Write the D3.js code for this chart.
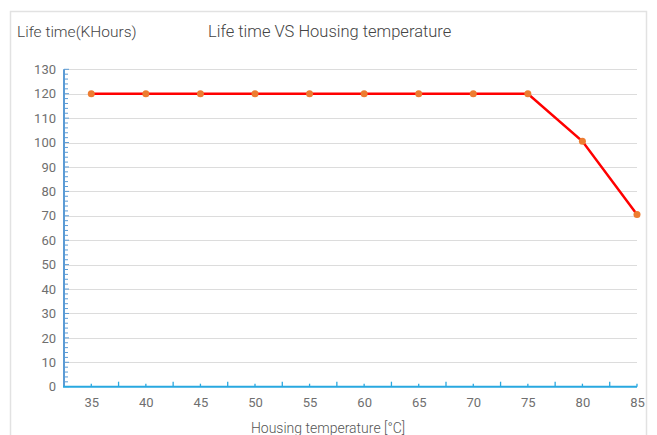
<!DOCTYPE html>
<html><head><meta charset="utf-8">
<script src="https://cdn.jsdelivr.net/npm/d3@7"></script>
<style>body{margin:0;background:#fff;}svg{display:block;font-family:Roboto,"Noto Sans",sans-serif;}</style>
</head><body><svg id="c" width="657" height="435"></svg>
<script>
const temps = [35,40,45,50,55,60,65,70,75,80,85];
const lifeK = [120,120,120,120,120,120,120,120,120,100.5,70.5];
const yTicks = [0,10,20,30,40,50,60,70,80,90,100,110,120,130];
const title = "Life time VS Housing temperature";
const yTitle = "Life time(KHours)";
const xTitle = "Housing temperature  [°C]";

const svg = d3.select("#c");
const m = {l:64, r:637, t:69.3, b:386.7};
const x = d3.scaleLinear().domain([32.5,85]).range([m.l,m.r]);
const y = d3.scaleLinear().domain([0,130]).range([m.b,m.t]);

// frame
svg.append("rect").attr("x",10.5).attr("y",11.5).attr("width",636).attr("height",440)
  .attr("fill","none").attr("stroke","#e2e2e2").attr("stroke-width",1.5);

// gridlines
svg.append("g").selectAll("line").data(yTicks.filter(d=>d>0)).join("line")
  .attr("x1",m.l).attr("x2",m.r).attr("y1",d=>Math.round(y(d))+0.5).attr("y2",d=>Math.round(y(d))+0.5)
  .attr("stroke","#dcdcdc").attr("stroke-width",1.2);

// y axis minor ticks
const yMinor = d3.range(0,131,2);
svg.append("g").selectAll("line").data(yMinor).join("line")
  .attr("x1",m.l).attr("x2",d=>m.l+(d%10===0?5:4)).attr("y1",d=>y(d)).attr("y2",d=>y(d))
  .attr("stroke","#5b9bd5").attr("stroke-width",1);
svg.append("line").attr("x1",m.l).attr("x2",m.l).attr("y1",m.t).attr("y2",m.b)
  .attr("stroke","#5b9bd5").attr("stroke-width",2);

// y tick labels
const yAxis = d3.axisLeft(y).tickValues(yTicks).tickSize(0).tickPadding(8);
const gy = svg.append("g").attr("transform",`translate(${m.l},0)`).call(yAxis);
gy.select(".domain").remove();
gy.selectAll("text").attr("fill","#6f6f6f").style("font-size","13px").style("font-family","Roboto");

// x axis
const xMajor = d3.range(37.5,85,5);
svg.append("g").selectAll("line").data(xMajor).join("line")
  .attr("x1",d=>x(d)).attr("x2",d=>x(d)).attr("y1",m.b).attr("y2",m.b-5)
  .attr("stroke","#29a8e0").attr("stroke-width",1.3);
svg.append("g").selectAll("line").data(temps).join("line")
  .attr("x1",d=>x(d)).attr("x2",d=>x(d)).attr("y1",m.b).attr("y2",m.b-3)
  .attr("stroke","#29a8e0").attr("stroke-width",1.3);
svg.append("line").attr("x1",m.l-1).attr("x2",m.r).attr("y1",m.b).attr("y2",m.b)
  .attr("stroke","#29a8e0").attr("stroke-width",2);
const xAxis = d3.axisBottom(x).tickValues(temps).tickSize(0).tickPadding(11);
const gx = svg.append("g").attr("transform",`translate(0,${m.b})`).call(xAxis);
gx.select(".domain").remove();
gx.selectAll("text").attr("fill","#6f6f6f").style("font-size","13px").style("font-family","Roboto");

// line
const data = temps.map((t,i)=>({t, v:lifeK[i]}));
svg.append("path").datum(data)
  .attr("d", d3.line().x(d=>x(d.t)).y(d=>y(d.v)))
  .attr("fill","none").attr("stroke","#ff0000").attr("stroke-width",2.5);
svg.append("g").selectAll("circle").data(data).join("circle")
  .attr("cx",d=>x(d.t)).attr("cy",d=>y(d.v)).attr("r",3.5).attr("fill","#ed7d31");

// titles
svg.append("text").attr("x",17).attr("y",37).text(yTitle)
  .attr("fill","#444").style("font-size","15.5px").style("font-weight",300);
svg.append("text").attr("x",208).attr("y",37).text(title)
  .attr("fill","#444").style("font-size","16.5px").style("font-weight",300);
svg.append("text").attr("x",328).attr("y",433).attr("text-anchor","middle").text(xTitle)
  .attr("fill","#555").style("font-size","14px").style("font-weight",300);
</script></body></html>
